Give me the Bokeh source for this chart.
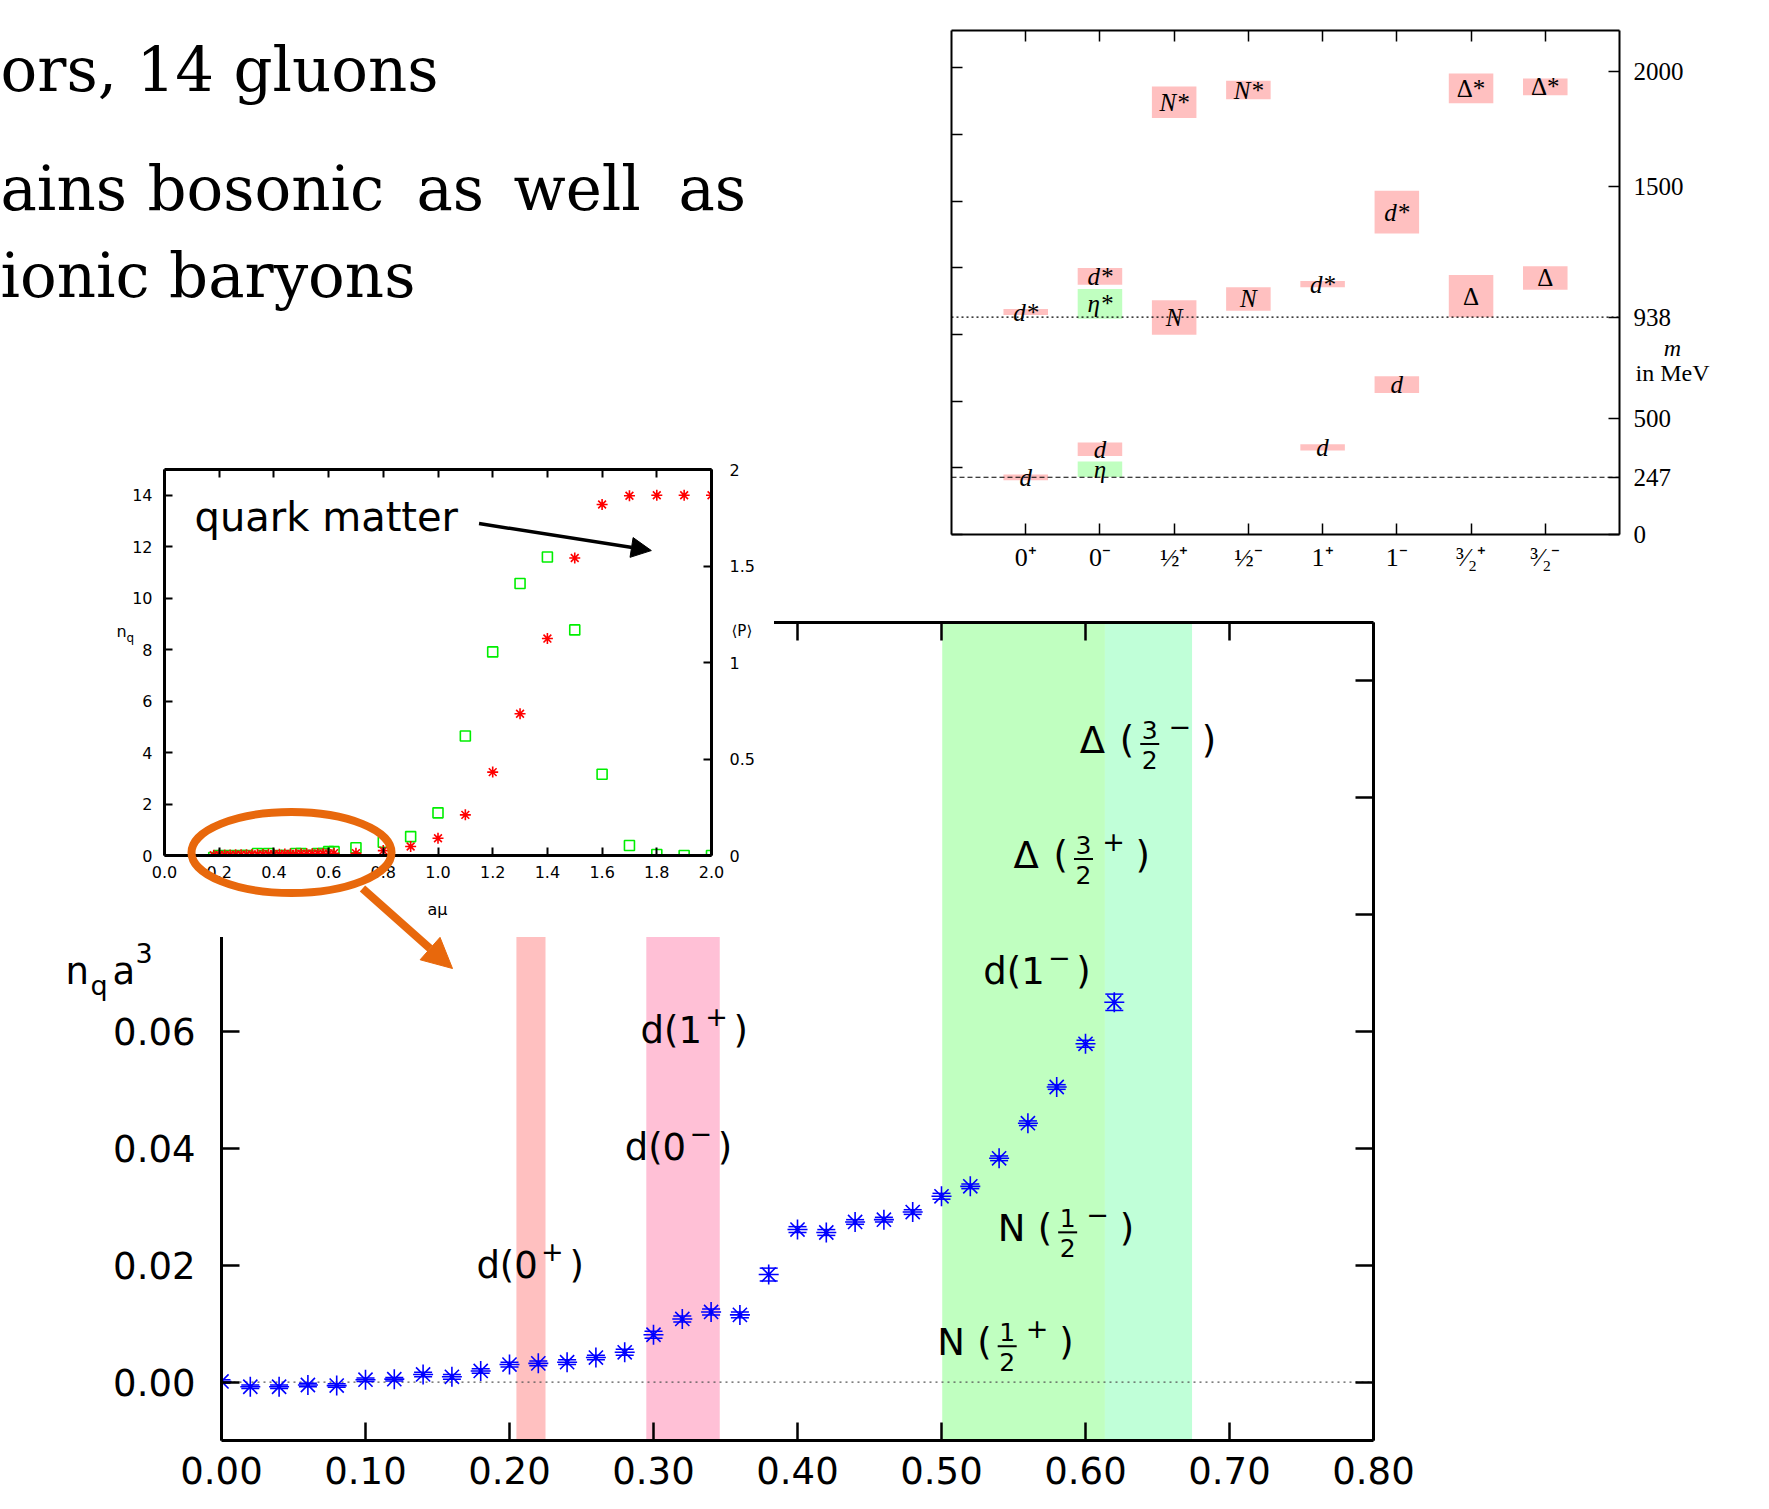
from bokeh.plotting import figure
from bokeh.models import (Range1d, LinearAxis, FixedTicker, ColumnDataSource, Span, Arrow,
                          NormalHead, Whisker, TeeHead, BoxAnnotation, NumeralTickFormatter,
                          Column, Div, GlobalInlineStyleSheet)
from bokeh.embed import file_html
from bokeh.resources import INLINE
from bokeh.core.properties import value

# ====================== DATA ======================
# --- main chart: quark density n_q a^3 versus a*mu ---
MAIN_MU = [0.00, 0.02, 0.04, 0.06, 0.08, 0.10, 0.12, 0.14, 0.16, 0.18, 0.20, 0.22, 0.24, 0.26,
           0.28, 0.30, 0.32, 0.34, 0.36, 0.38, 0.40, 0.42, 0.44, 0.46, 0.48, 0.50, 0.52, 0.54,
           0.56, 0.58, 0.60, 0.62]
MAIN_NQ = [0.0001, -0.0008, -0.0008, -0.0005, -0.0006, 0.0004, 0.0005, 0.0013, 0.0009, 0.0019,
           0.0030, 0.0032, 0.0034, 0.0042, 0.0051, 0.0081, 0.0108, 0.0120, 0.0115, 0.0184,
           0.0261, 0.0256, 0.0274, 0.0278, 0.0291, 0.0318, 0.0335, 0.0383, 0.0443, 0.0505,
           0.0579, 0.0650]
MAIN_ERR = [0.0003, 0.0003, 0.0003, 0.0003, 0.0003, 0.0003, 0.0003, 0.0004, 0.0004, 0.0004,
            0.0004, 0.0004, 0.0004, 0.0004, 0.0005, 0.0006, 0.0005, 0.0005, 0.0005, 0.0011,
            0.0005, 0.0005, 0.0004, 0.0004, 0.0004, 0.0005, 0.0004, 0.0004, 0.0004, 0.0004,
            0.0006, 0.0014]
MAIN_X_TICKS = [0.0, 0.1, 0.2, 0.3, 0.4, 0.5, 0.6, 0.7, 0.8]
MAIN_Y_TICKS = [0.00, 0.02, 0.04, 0.06, 0.08, 0.10, 0.12]

# threshold bands (a*mu ranges of the bound-state masses / 2)
BAND_LEFT = [0.2048, 0.2950, 0.5005, 0.6135]
BAND_RIGHT = [0.2250, 0.3460, 0.6135, 0.6740]
BAND_COLORS = ["#ffc0c0", "#ffc0d6", "#c0ffc0", "#c0ffd8"]

STATE_BASE = ["d(0", "d(0", "d(1", "d(1"]
STATE_PARITY = ["+", "−", "+", "−"]
STATE_LABEL_X = [0.177, 0.280, 0.291, 0.529]
STATE_LABEL_Y = [0.0200, 0.0402, 0.0602, 0.0703]

FRAC_BASE = ["N", "N", "Δ", "Δ"]
FRAC_NUM = ["1", "1", "3", "3"]
FRAC_DEN = ["2", "2", "2", "2"]
FRAC_PARITY = ["+", "−", "+", "−"]
FRAC_X = [0.497, 0.539, 0.550, 0.596]
FRAC_Y = [0.0045, 0.0240, 0.0879, 0.1076]

# --- inset: n_q and Polyakov loop versus a*mu ---
INSET_MU = [0.18, 0.20, 0.22, 0.24, 0.26, 0.28, 0.30, 0.32, 0.34, 0.36, 0.38, 0.40, 0.42, 0.44,
            0.46, 0.48, 0.50, 0.52, 0.54, 0.56, 0.58, 0.60, 0.62,
            0.7, 0.8, 0.9, 1.0, 1.1, 1.2, 1.3, 1.4, 1.5, 1.6, 1.7, 1.8, 1.9, 2.0]
INSET_NQ = [0.01, 0.02, 0.02, 0.02, 0.03, 0.03, 0.03, 0.04, 0.04, 0.04, 0.05, 0.05, 0.05, 0.06,
            0.06, 0.06, 0.07, 0.07, 0.07, 0.08, 0.08, 0.08, 0.09,
            0.09, 0.19, 0.35, 0.67, 1.58, 3.24, 5.51, 8.43, 11.56, 13.64, 13.98, 14.0, 14.0, 14.0]
INSET_P = [-0.01, 0.00, -0.01, 0.00, -0.01, 0.00, 0.00, -0.01, 0.01, 0.00, 0.01, -0.01, 0.00,
           0.00, -0.01, 0.01, 0.01, 0.00, 0.00, 0.01, 0.01, 0.02, 0.02,
           0.040, 0.069, 0.098, 0.221, 0.619, 1.055, 1.409, 1.547, 1.169, 0.421, 0.052, 0.005,
           0.0, 0.0]
INSET_X_TICKS = [0.0, 0.2, 0.4, 0.6, 0.8, 1.0, 1.2, 1.4, 1.6, 1.8, 2.0]
INSET_NQ_TICKS = [0, 2, 4, 6, 8, 10, 12, 14]
INSET_P_TICKS = [0, 0.5, 1, 1.5, 2]
QM_TEXT_X, QM_TEXT_Y = 0.11, 12.6
QM_ARROW = (1.15, 12.9, 1.78, 11.85)

# --- spectrum inset: masses in MeV ---
SPEC_CATEGORIES = ["0⁺", "0⁻", "½⁺", "½⁻", "1⁺", "1⁻", "³⁄₂⁺", "³⁄₂⁻"]
SPEC_CAT = [1, 1, 2, 2, 2, 2, 3, 3, 4, 4, 5, 5, 6, 6, 7, 7, 8, 8]
SPEC_LOW = [947, 234, 1078, 931, 339, 248, 1797, 862, 1878, 966, 1067, 363, 1299, 611,
            1861, 938, 1896, 1056]
SPEC_HIGH = [973, 259, 1150, 1059, 397, 315, 1933, 1011, 1958, 1067, 1094, 389, 1483, 683,
             1989, 1120, 1968, 1158]
SPEC_NAMES = ["d*", "d", "d*", "η*", "d", "η", "N*", "N", "N*", "N", "d*", "d", "d*", "d",
              "Δ*", "Δ", "Δ*", "Δ"]
SPEC_KIND = ["diquark", "diquark", "diquark", "meson", "diquark", "meson", "baryon", "baryon",
             "baryon", "baryon", "diquark", "diquark", "diquark", "diquark", "baryon", "baryon",
             "baryon", "baryon"]
SPEC_MASS_TICKS = [0, 247, 500, 938, 1500, 2000]
NUCLEON_MASS = 938
PION_MASS = 247
LATTICE_MEV = 1438          # inverse lattice spacing in MeV
LATTICE_TICKS = [0.0, 0.2, 0.4, 0.6, 0.8, 1.0, 1.2, 1.4]

# ====================== STYLE ======================
SANS = "DejaVu Sans"
SERIF = "Liberation Serif"
SLIDE_SERIF = "DejaVu Serif"
ORANGE = "#e8680c"
BLUE = "#0000ff"
RED = "#ff0000"
GREEN = "#00ee00"
W, H = 1769, 1509
# every figure in the column gets the same side borders (bokeh aligns them anyway)
LC, RC = 221, 150
ALPHA_FIX = 0.35   # alphabetic-baseline text is drawn this many em too low; lift it


def style_axis(ax, ticks, font, size, tick_in, axis_w, tick_w, standoff, show_labels=True):
    ax.ticker = FixedTicker(ticks=ticks)
    ax.minor_tick_line_color = None
    ax.major_tick_in = tick_in
    ax.major_tick_out = 0
    ax.axis_line_width = axis_w
    ax.axis_line_color = "black"
    ax.major_tick_line_width = tick_w
    ax.major_label_text_font = font
    ax.major_label_text_font_size = f"{size}px"
    ax.major_label_standoff = standoff
    ax.major_label_text_color = "black"
    if not show_labels:
        ax.major_label_text_font_size = "0px"
        ax.major_label_text_color = None


def make_fig(frame_w, frame_h, top, bottom, **kw):
    return figure(width=LC + frame_w + RC, height=top + frame_h + bottom,
                  min_border_left=LC, min_border_right=RC, min_border_top=top,
                  min_border_bottom=bottom, output_backend="svg", toolbar_location=None,
                  outline_line_color=None, border_fill_color=None, **kw)


def place(el, frame_left, top):
    el.styles = {"position": "absolute", "left": f"{frame_left - LC}px", "top": f"{top}px"}


# ====================== MAIN CHART ======================
M_FW, M_FH, M_T, M_B = 1152, 818, 122, 69
main = make_fig(M_FW, M_FH, M_T, M_B, x_range=Range1d(0.0, 0.8),
                y_range=Range1d(-0.01, 0.13), background_fill_color="white")
main.grid.visible = False
main.add_layout(LinearAxis(), "right")
main.add_layout(LinearAxis(), "above")
style_axis(main.below[0], MAIN_X_TICKS, SANS, 37, 18, 3, 2.5, 16)
main.below[0].formatter = NumeralTickFormatter(format="0.00")
style_axis(main.left[0], MAIN_Y_TICKS, SANS, 37, 18, 3, 2.5, 26)
main.left[0].formatter = NumeralTickFormatter(format="0.00")
style_axis(main.above[0], MAIN_X_TICKS, SANS, 37, 18, 3, 2.5, 16, show_labels=False)
style_axis(main.right[0], MAIN_Y_TICKS, SANS, 37, 18, 3, 2.5, 16, show_labels=False)

for l, r, c in zip(BAND_LEFT, BAND_RIGHT, BAND_COLORS):
    main.add_layout(BoxAnnotation(left=l, right=r, fill_color=c, fill_alpha=1.0,
                                  line_color=None, level="underlay"))
main.add_layout(Span(location=0, dimension="width", line_color="#555555", line_width=1.3,
                     line_dash="2 4", level="underlay"))

msrc = ColumnDataSource(dict(mu=MAIN_MU, nq=MAIN_NQ,
                             up=[v + e for v, e in zip(MAIN_NQ, MAIN_ERR)],
                             lo=[v - e for v, e in zip(MAIN_NQ, MAIN_ERR)]))
main.add_layout(Whisker(source=msrc, base="mu", upper="up", lower="lo", line_color=BLUE,
                        line_width=1.5,
                        upper_head=TeeHead(size=18, line_color=BLUE, line_width=1.5),
                        lower_head=TeeHead(size=18, line_color=BLUE, line_width=1.5)))
main.scatter("mu", "nq", source=msrc, marker="asterisk", size=20, line_color=BLUE,
             line_width=1.6)

# d(J^P ) labels
dsrc = ColumnDataSource(dict(x=STATE_LABEL_X, y=STATE_LABEL_Y, base=STATE_BASE,
                             par=STATE_PARITY))
dcommon = dict(source=dsrc, text_font=value(SANS), text_color="black", text_baseline="middle")
main.text("x", "y", text="base", text_font_size=value("37px"), text_align="left", **dcommon)
main.text("x", "y", text="par", x_offset=76, y_offset=-14, text_font_size=value("27px"),
          text_align="center", **dcommon)
main.text("x", "y", text=value(")"), x_offset=93, text_font_size=value("37px"),
          text_align="left", **dcommon)

# N( 1/2 ^P ) and Delta( 3/2 ^P ) labels
fsrc = ColumnDataSource(dict(x=FRAC_X, y=FRAC_Y, base=FRAC_BASE, num=FRAC_NUM, den=FRAC_DEN,
                             par=FRAC_PARITY))
common = dict(source=fsrc, text_font=value(SANS), text_color="black",
              text_baseline="alphabetic")
main.text("x", "y", text="base", y_offset=-37 * ALPHA_FIX, text_font_size=value("37px"),
          text_align="left", **common)
main.text("x", "y", text=value("("), x_offset=40, y_offset=-37 * ALPHA_FIX,
          text_font_size=value("37px"), text_align="left", **common)
main.text("x", "y", text="num", x_offset=70, y_offset=-15 - 25 * ALPHA_FIX,
          text_font_size=value("25px"), text_align="center", **common)
main.text("x", "y", text="den", x_offset=70, y_offset=15 - 25 * ALPHA_FIX,
          text_font_size=value("25px"), text_align="center", **common)
main.text("x", "y", text="par", x_offset=100, y_offset=-18 - 27 * ALPHA_FIX,
          text_font_size=value("27px"), text_align="center", **common)
main.text("x", "y", text=value(")"), x_offset=122, y_offset=-37 * ALPHA_FIX,
          text_font_size=value("37px"), text_align="left", **common)
px_x = 0.8 / M_FW
px_y = 0.14 / M_FH
main.rect(x=[x + 70 * px_x for x in FRAC_X], y=[y + 9.5 * px_y for y in FRAC_Y],
          width=19, height=2, width_units="screen", height_units="screen",
          fill_color="black", line_color=None)

# ====================== INSET (n_q, <P>) ======================
I_FW, I_FH, I_T, I_B = 547, 386, 49, 77
inset = make_fig(I_FW, I_FH, I_T, I_B, x_range=Range1d(0.0, 2.0), y_range=Range1d(0, 15),
                 background_fill_color="white")
inset.grid.visible = False
inset.extra_y_ranges = {"P": Range1d(0, 2)}
inset.add_layout(LinearAxis(y_range_name="P"), "right")
inset.add_layout(LinearAxis(), "above")
style_axis(inset.below[0], INSET_X_TICKS, SANS, 16, 8, 3, 2, 10)
inset.below[0].formatter = NumeralTickFormatter(format="0.0")
style_axis(inset.above[0], INSET_X_TICKS, SANS, 16, 8, 3, 2, 10, show_labels=False)
style_axis(inset.left[0], INSET_NQ_TICKS, SANS, 16, 8, 3, 2, 12)
style_axis(inset.right[0], INSET_P_TICKS, SANS, 16, 8, 3, 2, 18)

inset.scatter(INSET_MU, INSET_P, y_range_name="P", marker="square", size=10,
              fill_color=None, line_color=GREEN, line_width=1.6)
inset.scatter(INSET_MU, INSET_NQ, marker="asterisk", size=11, line_color=RED, line_width=1.6)
inset.text(x=[QM_TEXT_X], y=[QM_TEXT_Y], text=["quark matter"], text_font=value(SANS),
           text_font_size=value("40px"), text_baseline="alphabetic", text_color="black",
           y_offset=-40 * ALPHA_FIX)
inset.add_layout(Arrow(x_start=QM_ARROW[0], y_start=QM_ARROW[1], x_end=QM_ARROW[2],
                       y_end=QM_ARROW[3], line_width=3.5, line_color="black",
                       end=NormalHead(size=20, fill_color="black", line_color="black")))

# white sheet that the inset plot sits on (hides the part of the main plot beneath it)
sheet = Div(text="", width=679, height=512,
            styles={"position": "absolute", "left": "90px", "top": "420px",
                    "background-color": "white"})

# ====================== SPECTRUM ======================
S_FW, S_FH, S_T, S_B = 668, 504, 30, 70
spec = make_fig(S_FW, S_FH, S_T, S_B, x_range=Range1d(0, 9), y_range=Range1d(0, 2175),
                y_axis_location="right", background_fill_color="white")
spec.grid.visible = False
spec.extra_y_ranges = {"lat": Range1d(0, 2175 / LATTICE_MEV)}
spec.add_layout(LinearAxis(y_range_name="lat"), "left")
spec.add_layout(LinearAxis(), "above")
style_axis(spec.below[0], [1, 2, 3, 4, 5, 6, 7, 8], SERIF, 26, 11, 2, 1.5, 8)
spec.below[0].major_label_overrides = {i + 1: c for i, c in enumerate(SPEC_CATEGORIES)}
style_axis(spec.above[0], [1, 2, 3, 4, 5, 6, 7, 8], SERIF, 26, 11, 2, 1.5, 8,
           show_labels=False)
style_axis(spec.right[0], SPEC_MASS_TICKS, SERIF, 25, 11, 2, 1.5, 14)
style_axis(spec.left[0], LATTICE_TICKS, SERIF, 25, 11, 2, 1.5, 8, show_labels=False)

kind_color = {"diquark": "#ffc0c0", "baryon": "#ffc0c0", "meson": "#c0ffc0"}
ssrc = ColumnDataSource(dict(
    cat=SPEC_CAT, lo=SPEC_LOW, hi=SPEC_HIGH, name=SPEC_NAMES,
    mid=[(a + b) / 2 for a, b in zip(SPEC_LOW, SPEC_HIGH)],
    color=[kind_color[k] for k in SPEC_KIND],
    style=["normal" if n.startswith("Δ") else "italic" for n in SPEC_NAMES]))
spec.vbar(x="cat", width=0.6, bottom="lo", top="hi", fill_color="color", line_color=None,
          source=ssrc)
spec.add_layout(Span(location=NUCLEON_MASS, dimension="width", line_color="black",
                     line_width=1.2, line_dash="2 3"))
spec.add_layout(Span(location=PION_MASS, dimension="width", line_color="black",
                     line_width=1.2, line_dash="5 3"))
spec.text("cat", "mid", text="name", source=ssrc, text_font=value(SERIF),
          text_font_style="style", text_font_size=value("25px"), text_align="center",
          text_baseline="middle", text_color="black")

# ====================== OVERLAY (slide text, highlight, free labels) ======================
over = make_fig(W, H, 0, 0, x_range=Range1d(0, W), y_range=Range1d(H, 0),
                x_axis_type=None, y_axis_type=None, background_fill_color=None)
over.grid.visible = False


def otext(x, y, t, font, size, align="left", baseline="alphabetic", style="normal"):
    lift = size * ALPHA_FIX if baseline == "alphabetic" else 0
    over.text(x=[x], y=[y - lift], text=[t], text_font=value(font),
              text_font_size=value(f"{size}px"), text_align=align, text_baseline=baseline,
              text_font_style=style, text_color="black")


# slide text (cut at the left edge)
otext(0, 90, "ors, 14 gluons", SLIDE_SERIF, 61)
for word, x in zip(["ains", "bosonic", "as", "well", "as"], [0, 147, 416, 513, 678]):
    otext(x, 209, word, SLIDE_SERIF, 61)
otext(0, 296, "ionic baryons", SLIDE_SERIF, 61)

# main y label  n_q a^3
otext(65, 984, "n", SANS, 37)
otext(90, 994, "q", SANS, 27)
otext(112, 984, "a", SANS, 37)
otext(135, 962, "3", SANS, 27)

# inset axis labels
otext(116, 637, "n", SANS, 16)
otext(126, 642, "q", SANS, 12)
otext(731, 630, "⟨P⟩", SANS, 15, baseline="middle")
otext(437, 909, "aμ", SANS, 16, align="center", baseline="middle")

# spectrum axis label
otext(1672, 347, "m", SERIF, 24, align="center", baseline="middle", style="italic")
otext(1672, 372, "in MeV", SERIF, 24, align="center", baseline="middle")

# orange highlight ellipse + arrow
over.ellipse(x=[291], y=[852], width=[200], height=[81], fill_color=None,
             line_color=ORANGE, line_width=8)
over.add_layout(Arrow(x_start=362, y_start=888, x_end=452, y_end=968, line_width=8,
                      line_color=ORANGE,
                      end=NormalHead(size=30, fill_color=ORANGE, line_color=ORANGE)))

# ====================== PAGE ======================
place(main, 221, 500)
place(spec, 951, 0)
place(inset, 164, 420)
place(over, 0, 0)

ROOT_W = W + LC + RC + 40
root = Column(children=[main, spec, sheet, inset, over], width=ROOT_W, height=H,
              sizing_mode="fixed", styles={"position": "relative", "overflow": "hidden"},
              stylesheets=[GlobalInlineStyleSheet(
                  css="html, body {margin:0; padding:0; overflow:hidden;}")])

open("out.html", "w").write(file_html(root, INLINE))
